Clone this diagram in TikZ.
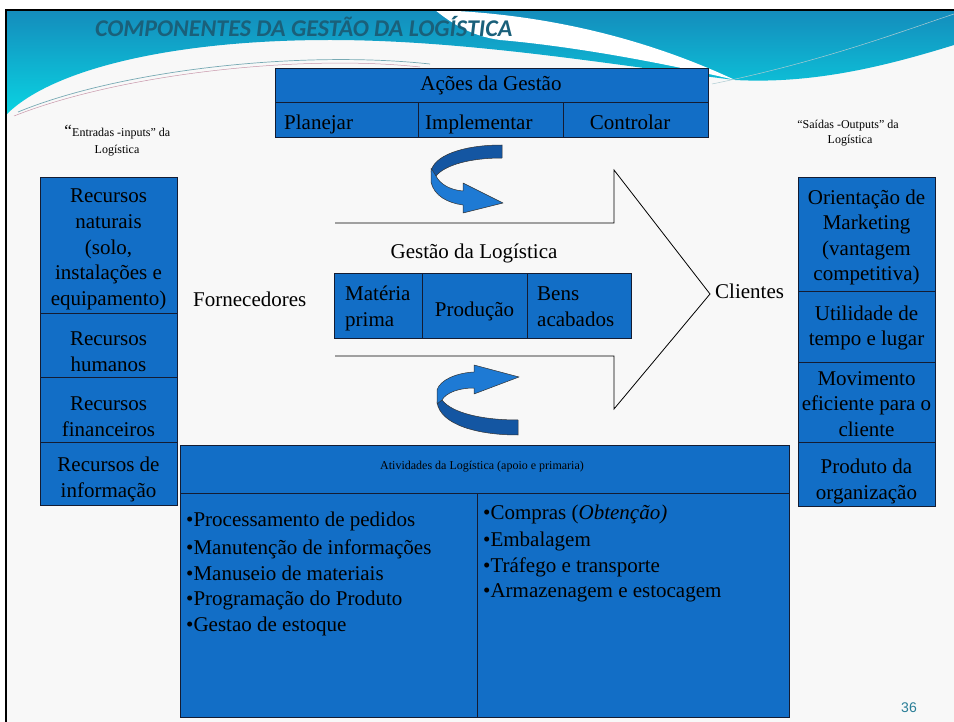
\documentclass[tikz,border=0pt]{standalone}
\usepackage{fontspec}
\setmainfont{Liberation Serif}
\newfontfamily\dgTitleFont{Carlito}
\newfontfamily\dgNumFont{Liberation Sans}
\newcommand\dgBig{\fontsize{21}{25.6}\selectfont}
\newcommand\dgSmall{\fontsize{12}{14}\selectfont}
\definecolor{boxblue}{RGB}{18,110,198}
\definecolor{arrowlight}{RGB}{30,122,212}
\definecolor{arrowdark}{RGB}{20,86,162}
\definecolor{titleteal}{RGB}{26,96,122}
\definecolor{bgslide}{RGB}{248,248,248}
\definecolor{bandtop}{RGB}{20,140,188}
\definecolor{bandbottom}{RGB}{10,212,226}
\definecolor{numteal}{RGB}{40,125,150}
\definecolor{celledge}{RGB}{20,28,50}
\definecolor{swoosha}{RGB}{120,170,180}
\definecolor{swooshb}{RGB}{200,150,170}
\tikzset{
  cell/.style={draw=celledge, fill=boxblue, line width=0.8pt, inner sep=0pt, anchor=north west},
  celltext/.style={font=\dgBig, inner sep=0pt, align=center},
  bigtext/.style={font=\dgBig, inner sep=0pt},
  smalltext/.style={font=\dgSmall, inner sep=0pt},
  bendarrow/.style={draw=black!80, line width=0.5pt, line join=round},
}
\begin{document}
\begin{tikzpicture}[x=1pt,y=-1pt]
\useasboundingbox (0,0) rectangle (954,722);
% background
\fill[white] (0,0) rectangle (954,722);
\fill[bgslide] (6,10) rectangle (954,722);
% top band
\shade[top color=bandtop, bottom color=bandbottom]
  (6,10) -- (954,10) -- (954,45) .. controls (880,68) and (810,84) .. (735,80)
  .. controls (620,66) and (470,40) .. (330,40)
  .. controls (170,40) and (50,70) .. (6,115) -- cycle;
\fill[white] (435,10) .. controls (560,14) and (660,45) .. (735,80)
  .. controls (660,62) and (570,46) .. (500,40)
  .. controls (470,36) and (450,22) .. (435,10) -- cycle;
\draw[swoosha, line width=0.7pt] (18,112) .. controls (120,70) and (300,50) .. (430,64);
\draw[swooshb, line width=0.5pt] (14,116) .. controls (120,74) and (300,54) .. (420,67);
\draw[swoosha!60, line width=0.5pt] (712,84) .. controls (820,62) and (900,32) .. (954,14);
% slide border
\draw[black, line width=2.5pt] (6,722) -- (6,10) -- (954,10);
% title
\node[anchor=base west, inner sep=0pt, text=titleteal,
  font=\dgTitleFont\bfseries\itshape\fontsize{24}{28}\selectfont] (title) at (95,36.5)
  {COMPONENTES DA GESTÃO DA LOGÍSTICA};
% Acoes box
\node[cell, minimum width=433, minimum height=34] (acoes) at (275,68) {};
\node[cell, minimum width=143, minimum height=35] (plan) at (275,102) {};
\node[cell, minimum width=145, minimum height=35] (impl) at (418,102) {};
\node[cell, minimum width=145, minimum height=35] (ctrl) at (563,102) {};
\node[bigtext, anchor=base] (acoest) at (491,91) {Ações da Gestão};
\node[bigtext, anchor=base west] (plant) at (284,129.5) {Planejar};
\node[bigtext, anchor=base west] (implt) at (425,129.5) {Implementar};
\node[bigtext, anchor=base] (ctrlt) at (630,129.5) {Controlar};
% side labels
\node[inner sep=0pt, anchor=base east, font=\fontsize{17}{18}\selectfont] (q1) at (72,137) {“};
\node[smalltext, anchor=base west] (ent1) at (72,137) {Entradas -inputs” da};
\node[smalltext, anchor=base] (ent2) at (117,154) {Logística};
\node[smalltext, anchor=base] (sai1) at (848,129) {“Saídas -Outputs” da};
\node[smalltext, anchor=base] (sai2) at (850,144) {Logística};
% curved arrows
\filldraw[bendarrow, fill=arrowdark] (502,145) .. controls (462,145) and (433,156) .. (431,172)
  -- (436,176) .. controls (445,165) and (470,158) .. (502,158) -- cycle;
\filldraw[bendarrow, fill=arrowlight] (431,168) -- (431,182) .. controls (434,196) and (448,203) .. (463,205)
  -- (463,213) -- (503,203) -- (463,183) -- (463,191)
  .. controls (450,190) and (440,184) .. (436,176) -- cycle;
\filldraw[bendarrow, fill=arrowdark] (518,435) .. controls (478,435) and (440,425) .. (437,402)
  -- (442,400) .. controls (452,413) and (482,420) .. (518,420) -- cycle;
\filldraw[bendarrow, fill=arrowlight] (437,404) -- (437,390) .. controls (440,380) and (456,373) .. (474,372)
  -- (474,365) -- (519,377) -- (474,394) -- (474,388)
  .. controls (458,388) and (446,393) .. (442,400) -- cycle;
% big arrow outline
\draw[black, line width=0.8pt, line join=miter]
  (335,223) -- (614,223) -- (614,170) -- (710,294) -- (614,409) -- (614,356) -- (335,356);
\node[bigtext, anchor=base] (gest) at (474,259) {Gestão da Logística};
% middle box
\node[cell, minimum width=88, minimum height=65] (mat) at (334,273) {};
\node[cell, minimum width=105, minimum height=65] (prod) at (422,273) {};
\node[cell, minimum width=104, minimum height=65] (bens) at (527,273) {};
\node[celltext] (prodt) at (474.5,311) {Produção};
\node[bigtext, anchor=base west] (mat1) at (345,300.5) {Matéria};
\node[bigtext, anchor=base west] (mat2) at (345,326.5) {prima};
\node[bigtext, anchor=base west] (bens1) at (537,300.5) {Bens};
\node[bigtext, anchor=base west] (bens2) at (537,326.5) {acabados};
\node[bigtext, anchor=base west] (forn) at (193,306.5) {Fornecedores};
\node[bigtext, anchor=base west] (cli) at (715,298.5) {Clientes};
% left column
\node[cell, minimum width=137, minimum height=136] (l1) at (40,177) {};
\node[cell, minimum width=137, minimum height=64] (l2) at (40,313) {};
\node[cell, minimum width=137, minimum height=65] (l3) at (40,377) {};
\node[cell, minimum width=137, minimum height=63] (l4) at (40,442) {};
\node[celltext] (l1t) at (108.5,249.5) {Recursos\\naturais\\(solo,\\instalações e\\equipamento)};
\node[celltext] (l2t) at (108.5,352) {Recursos\\humanos};
\node[celltext] (l3t) at (108.5,416.5) {Recursos\\financeiros};
\node[celltext] (l4t) at (108.5,479.5) {Recursos de\\informação};
% right column
\node[cell, minimum width=137, minimum height=114] (r1) at (798,177) {};
\node[cell, minimum width=137, minimum height=71] (r2) at (798,291) {};
\node[cell, minimum width=137, minimum height=80] (r3) at (798,362) {};
\node[cell, minimum width=137, minimum height=64] (r4) at (798,442) {};
\node[celltext] (r1t) at (866.5,237.5) {Orientação de\\Marketing\\(vantagem\\competitiva)};
\node[celltext] (r2t) at (866.5,328) {Utilidade de\\tempo e lugar};
\node[celltext] (r3t) at (866.5,404) {Movimento\\eficiente para o\\cliente};
\node[celltext] (r4t) at (866.5,481.5) {Produto da\\organização};
% bottom box
\node[cell, minimum width=609, minimum height=48] (ativ) at (180,445) {};
\node[cell, minimum width=297, minimum height=224] (ativl) at (180,493) {};
\node[cell, minimum width=312, minimum height=224] (ativr) at (477,493) {};
\node[smalltext, anchor=base] (ativt) at (482,469.5) {Atividades da Logística (apoio e primaria)};
\node[bigtext, anchor=base west] (p1) at (186,526.5) {•Processamento de pedidos};
\node[bigtext, anchor=base west] (p2) at (186,554.5) {•Manutenção de informações};
\node[bigtext, anchor=base west] (p3) at (186,580) {•Manuseio de materiais};
\node[bigtext, anchor=base west] (p4) at (186,605.5) {•Programação do Produto};
\node[bigtext, anchor=base west] (p5) at (186,631) {•Gestao de estoque};
\node[bigtext, anchor=base west] (s1) at (483,519) {•Compras (\textit{Obtenção)}};
\node[bigtext, anchor=base west] (s2) at (483,546.5) {•Embalagem};
\node[bigtext, anchor=base west] (s3) at (483,572) {•Tráfego e transporte};
\node[bigtext, anchor=base west] (s4) at (483,597.5) {•Armazenagem e estocagem};
% page number
\node[anchor=base, inner sep=0pt, text=numteal, font=\dgNumFont\fontsize{14}{16}\selectfont] (pg) at (909,712) {36};
\end{tikzpicture}
\end{document}
